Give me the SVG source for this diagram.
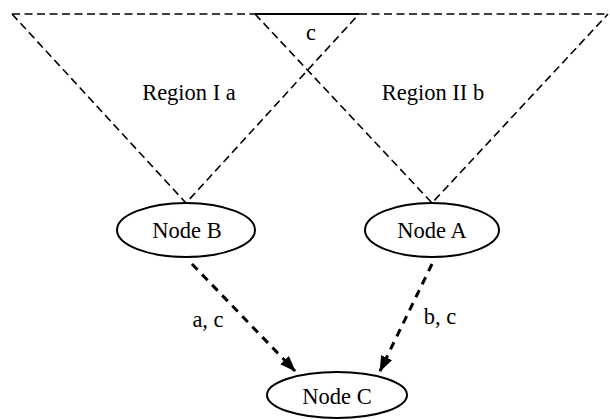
<svg xmlns="http://www.w3.org/2000/svg" width="610" height="419" viewBox="0 0 610 419">
<style>
text{font-family:"Liberation Serif","Times New Roman",serif;font-size:22.5px;fill:#000;text-anchor:middle}
.region{fill:none;stroke:#000;stroke-width:1.6;stroke-dasharray:8 4.5}
.node{fill:#fff;stroke:#000;stroke-width:2}
.edge{fill:none;stroke:#000;stroke-width:3;stroke-dasharray:8 6.5}
</style>
<defs>
<marker id="arr" markerWidth="16" markerHeight="12" refX="15" refY="6" orient="auto" markerUnits="userSpaceOnUse">
<path d="M0,0 L16,6 L0,12 Z" fill="#000"/>
</marker>
</defs>
<g id="regions">
<polyline class="region" points="12,14 255,14"/>
<polyline class="region" points="359,14 608,14"/>
<line x1="255" y1="14" x2="359" y2="14" stroke="#000" stroke-width="2"/>
<polyline class="region" points="12,14 186,203 359,14"/>
<polyline class="region" points="255,14 432,203 608,14"/>
<text x="311" y="40">c</text>
<text x="189" y="100">Region I a</text>
<text x="433" y="100">Region II b</text>
</g>
<g id="connectors">
<g id="edge-b-c">
<line class="edge" x1="192" y1="264" x2="295" y2="371" marker-end="url(#arr)"/>
<text x="208" y="327">a, c</text>
</g>
<g id="edge-a-c">
<line class="edge" x1="432" y1="264" x2="380" y2="371" marker-end="url(#arr)"/>
<text x="440" y="324">b, c</text>
</g>
</g>
<g id="node-b">
<ellipse class="node" cx="186" cy="230" rx="69" ry="27"/>
<text x="187" y="238">Node B</text>
</g>
<g id="node-a">
<ellipse class="node" cx="432" cy="230" rx="67" ry="27"/>
<text x="432" y="238">Node A</text>
</g>
<g id="node-c">
<ellipse class="node" cx="337" cy="395" rx="70" ry="23"/>
<text x="337" y="404">Node C</text>
</g>
</svg>
